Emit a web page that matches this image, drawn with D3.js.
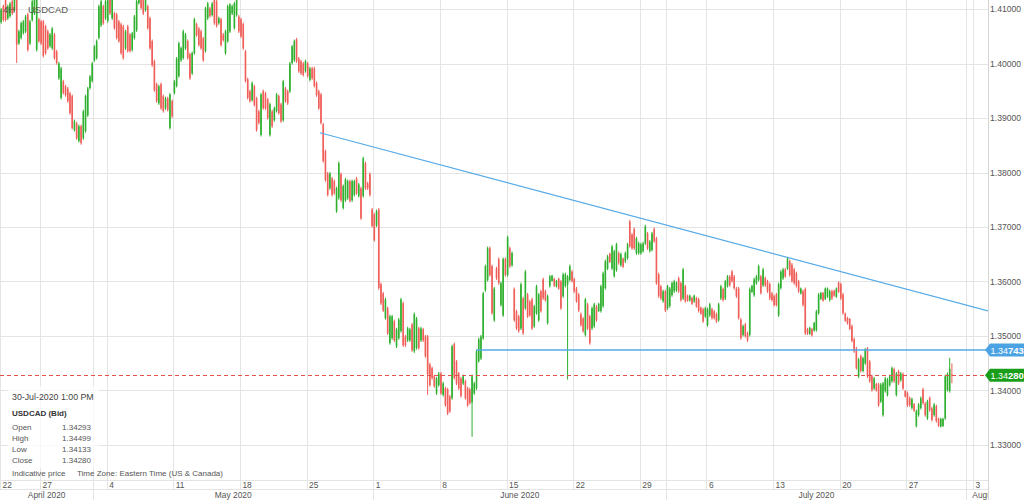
<!DOCTYPE html>
<html>
<head>
<meta charset="utf-8">
<title>USDCAD 4H</title>
<style>
body { margin: 0; background: #fff; }
svg text { font-family: "Liberation Sans", Arial, sans-serif; }
</style>
<script src="https://d3js.org/d3.v7.min.js"></script>
</head>
<body>
<svg id="chart" width="1024" height="500"></svg>
<script>
// 4H bars, 22-Apr-2020 .. 30-Jul-2020 1:00 PM (one line per trading week)
var opens = [
1.4076,1.4105,1.4116,1.4083,1.4087,1.4114,1.4098,1.4117,1.4037,1.4047,1.4056,1.4059,1.4090,1.4037,1.4080,1.4092,1.4025,1.4081,
1.4077,1.4077,1.4068,1.4059,1.4032,1.4028,1.4053,1.4022,1.3973,1.3937,1.3967,1.3958,1.3954,1.3945,1.3940,1.3878,1.3890,1.3858,1.3885,1.3863,1.3876,1.3905,1.3955,1.3968,1.4006,1.4010,1.4047,1.4070,1.4105,1.4083,
1.4078,1.4129,1.4083,1.4092,1.4090,1.4077,1.4072,1.4068,1.4028,1.4068,1.4053,1.4025,1.4047,1.4061,1.4111,1.4123,1.4120,1.4098,1.4105,1.4083,1.4041,1.4004,1.3962,1.3927,1.3962,1.3940,1.3918,1.3936,1.3882,1.3931,
1.3946,1.3959,1.3977,1.4006,1.4010,1.4028,1.4041,1.4017,1.3982,1.4019,1.4072,1.4064,1.4059,1.4046,1.4023,1.4083,1.4101,1.4089,1.4123,1.4114,1.4074,1.4081,1.4053,1.4019,1.4041,1.4059,1.4092,1.4065,1.4089,1.4086,
1.4081,1.4072,1.4022,1.3971,1.3949,1.3933,1.3958,1.3936,1.3912,1.3869,1.3949,1.3945,1.3934,1.3869,1.3912,1.3896,1.3913,1.3940,1.3925,1.3896,1.3954,1.3949,1.3949,1.4001,1.4006,1.4044,1.4009,1.4004,1.4000,1.3986,
1.4000,1.3970,1.3991,1.3991,1.3964,1.3949,1.3943,1.3888,1.3839,1.3798,1.3771,1.3789,1.3784,1.3729,1.3753,1.3797,1.3735,1.3749,1.3753,1.3784,1.3749,1.3759,1.3789,1.3757,1.3771,1.3757,1.3817,1.3780,1.3797,1.3732,
1.3723,1.3703,1.3732,1.3595,1.3578,1.3533,1.3551,1.3487,1.3496,1.3527,1.3481,1.3496,1.3509,1.3560,1.3499,1.3492,1.3492,1.3521,1.3472,1.3478,1.3514,1.3492,1.3512,1.3499,1.3499,1.3448,1.3441,1.3426,1.3395,1.3410,
1.3431,1.3392,1.3404,1.3402,1.3389,1.3386,1.3485,1.3453,1.3431,1.3422,1.3413,1.3417,1.3404,1.3402,1.3378,1.3395,1.3404,1.3454,1.3459,1.3496,1.3584,1.3603,1.3661,1.3628,1.3529,1.3624,1.3641,1.3557,1.3538,1.3641,
1.3612,1.3661,1.3630,1.3586,1.3545,1.3536,1.3514,1.3569,1.3551,1.3576,1.3563,1.3567,1.3518,1.3542,1.3529,1.3582,1.3604,1.3582,1.3524,1.3592,1.3601,1.3605,1.3591,1.3605,1.3600,1.3573,1.3592,1.3595,1.3603,1.3618,
1.3604,1.3587,1.3576,1.3540,1.3532,1.3502,1.3558,1.3536,1.3514,1.3518,1.3554,1.3546,1.3546,1.3555,1.3588,1.3624,1.3651,1.3624,1.3610,1.3621,1.3652,1.3630,1.3642,1.3637,1.3643,1.3710,1.3686,1.3696,1.3652,1.3652,
1.3652,1.3656,1.3670,1.3688,1.3656,1.3658,1.3696,1.3679,1.3613,1.3591,1.3564,1.3582,1.3551,1.3555,1.3575,1.3582,1.3584,1.3606,1.3597,1.3569,1.3591,1.3574,1.3565,1.3570,1.3563,1.3570,1.3567,1.3552,1.3549,1.3536,
1.3520,1.3538,1.3549,1.3545,1.3540,1.3529,1.3569,1.3586,1.3569,1.3592,1.3609,1.3618,1.3609,1.3587,1.3587,1.3530,1.3502,1.3521,1.3505,1.3502,1.3581,1.3575,1.3597,1.3603,1.3609,1.3593,1.3606,1.3600,1.3595,1.3578,
1.3573,1.3576,1.3538,1.3588,1.3606,1.3622,1.3624,1.3637,1.3631,1.3622,1.3615,1.3600,1.3578,1.3582,1.3586,1.3513,1.3504,1.3513,1.3510,1.3511,1.3542,1.3568,1.3579,1.3568,1.3572,1.3566,1.3582,1.3583,1.3572,1.3598,
1.3595,1.3576,1.3541,1.3533,1.3531,1.3518,1.3494,1.3477,1.3426,1.3463,1.3436,1.3450,1.3477,1.3453,1.3426,1.3404,1.3412,1.3411,1.3380,1.3355,1.3399,1.3392,1.3410,1.3417,1.3439,1.3392,1.3435,1.3419,1.3430,1.3399,
1.3395,1.3386,1.3368,1.3375,1.3335,1.3355,1.3368,1.3402,1.3376,1.3349,1.3386,1.3367,1.3355,1.3371,1.3348,1.3334,1.3335,1.3349,1.3401,1.3399,1.34293
];
var highs = [
1.4102,1.4108,1.4119,1.4108,1.4113,1.4117,1.4123,1.4120,1.4062,1.4077,1.4080,1.4089,1.4093,1.4080,1.4117,1.4135,1.4126,1.4084,
1.4080,1.4080,1.4071,1.4062,1.4056,1.4067,1.4056,1.4025,1.4003,1.3994,1.3970,1.3961,1.3957,1.3948,1.3943,1.3897,1.3893,1.3888,1.3888,1.3915,1.3943,1.3957,1.3979,1.4003,1.4034,1.4044,1.4108,1.4117,1.4108,1.4117,
1.4135,1.4132,1.4126,1.4095,1.4093,1.4080,1.4075,1.4071,1.4062,1.4071,1.4056,1.4058,1.4089,1.4117,1.4135,1.4126,1.4123,1.4121,1.4108,1.4086,1.4044,1.4007,1.3965,1.3961,1.3965,1.3943,1.3939,1.3939,1.3946,1.3934,
1.3970,1.4012,1.4040,1.4031,1.4062,1.4056,1.4044,1.4020,1.4022,1.4084,1.4075,1.4067,1.4062,1.4049,1.4104,1.4113,1.4104,1.4113,1.4126,1.4117,1.4086,1.4084,1.4056,1.4062,1.4108,1.4111,1.4108,1.4113,1.4126,1.4089,
1.4084,1.4075,1.4025,1.3974,1.3952,1.3967,1.3961,1.3939,1.3915,1.3946,1.3952,1.3948,1.3937,1.3928,1.3915,1.3921,1.3946,1.3943,1.3928,1.3970,1.3957,1.3952,1.4003,1.4034,1.4044,1.4047,1.4012,1.4007,1.4003,1.4007,
1.4003,1.3994,1.3994,1.3994,1.3967,1.3952,1.3946,1.3891,1.3842,1.3801,1.3801,1.3792,1.3787,1.3774,1.3820,1.3800,1.3778,1.3790,1.3787,1.3787,1.3787,1.3787,1.3792,1.3781,1.3774,1.3829,1.3820,1.3783,1.3800,1.3735,
1.3726,1.3732,1.3735,1.3598,1.3581,1.3570,1.3554,1.3539,1.3539,1.3530,1.3515,1.3533,1.3570,1.3563,1.3502,1.3517,1.3515,1.3524,1.3543,1.3535,1.3517,1.3517,1.3515,1.3502,1.3502,1.3451,1.3444,1.3429,1.3425,1.3434,
1.3434,1.3416,1.3407,1.3405,1.3392,1.3484,1.3488,1.3456,1.3434,1.3425,1.3429,1.3420,1.3407,1.3405,1.3429,1.3416,1.3475,1.3497,1.3502,1.3581,1.3631,1.3664,1.3664,1.3631,1.3590,1.3627,1.3644,1.3600,1.3644,1.3644,
1.3684,1.3664,1.3655,1.3589,1.3548,1.3539,1.3598,1.3572,1.3621,1.3579,1.3566,1.3570,1.3557,1.3594,1.3579,1.3585,1.3607,1.3585,1.3576,1.3612,1.3612,1.3607,1.3603,1.3607,1.3603,1.3616,1.3616,1.3612,1.3631,1.3621,
1.3607,1.3590,1.3579,1.3543,1.3535,1.3570,1.3561,1.3539,1.3554,1.3561,1.3557,1.3561,1.3594,1.3618,1.3640,1.3649,1.3653,1.3667,1.3658,1.3671,1.3655,1.3653,1.3644,1.3655,1.3671,1.3713,1.3689,1.3699,1.3682,1.3673,
1.3671,1.3673,1.3704,1.3691,1.3676,1.3691,1.3699,1.3682,1.3616,1.3594,1.3585,1.3585,1.3594,1.3590,1.3600,1.3603,1.3600,1.3609,1.3600,1.3625,1.3594,1.3576,1.3576,1.3572,1.3576,1.3572,1.3570,1.3554,1.3552,1.3554,
1.3552,1.3561,1.3552,1.3548,1.3543,1.3561,1.3594,1.3589,1.3603,1.3612,1.3612,1.3621,1.3612,1.3590,1.3590,1.3533,1.3521,1.3524,1.3508,1.3589,1.3594,1.3607,1.3612,1.3631,1.3612,1.3625,1.3609,1.3603,1.3598,1.3581,
1.3576,1.3579,1.3598,1.3621,1.3625,1.3625,1.3645,1.3640,1.3634,1.3625,1.3618,1.3603,1.3589,1.3585,1.3589,1.3515,1.3517,1.3515,1.3526,1.3548,1.3579,1.3581,1.3581,1.3589,1.3589,1.3585,1.3585,1.3585,1.3589,1.3600,
1.3598,1.3579,1.3543,1.3535,1.3533,1.3521,1.3497,1.3480,1.3460,1.3466,1.3462,1.3478,1.3480,1.3456,1.3429,1.3425,1.3414,1.3414,1.3414,1.3416,1.3425,1.3423,1.3429,1.3444,1.3442,1.3434,1.3438,1.3434,1.3433,1.3401,
1.3398,1.3389,1.3387,1.3377,1.3365,1.3377,1.3389,1.3405,1.3379,1.3383,1.3389,1.3370,1.3377,1.3374,1.3350,1.3350,1.3350,1.3429,1.3433,1.3460,1.34499
];
var lows = [
1.4073,1.4077,1.4077,1.4080,1.4084,1.4089,1.4095,1.4001,1.4034,1.4044,1.4053,1.4056,1.4022,1.4034,1.4077,1.4089,1.4022,1.4038,
1.4034,1.4011,1.4016,1.4025,1.4029,1.4025,1.4007,1.3998,1.3970,1.3934,1.3943,1.3939,1.3928,1.3906,1.3879,1.3875,1.3860,1.3855,1.3851,1.3860,1.3873,1.3902,1.3952,1.3965,1.4003,1.4007,1.4044,1.4067,1.4071,1.4080,
1.4075,1.4089,1.4080,1.4062,1.4044,1.4038,1.4016,1.4007,1.4025,1.4020,1.4020,1.4022,1.4044,1.4058,1.4108,1.4099,1.4089,1.4095,1.4062,1.4025,1.3994,1.3948,1.3928,1.3924,1.3915,1.3910,1.3915,1.3912,1.3879,1.3900,
1.3943,1.3956,1.3974,1.4003,1.4007,1.4025,1.4007,1.3970,1.3979,1.4016,1.4049,1.4031,1.4025,1.4003,1.4020,1.4080,1.4084,1.4086,1.4071,1.4066,1.4071,1.4031,1.4040,1.4016,1.4038,1.4056,1.4089,1.4062,1.4086,1.4056,
1.4047,1.4025,1.3965,1.3934,1.3928,1.3930,1.3921,1.3875,1.3888,1.3866,1.3915,1.3915,1.3897,1.3866,1.3882,1.3893,1.3910,1.3906,1.3891,1.3893,1.3928,1.3924,1.3946,1.3998,1.4003,1.4001,1.3983,1.3979,1.3976,1.3983,
1.3974,1.3967,1.3970,1.3956,1.3939,1.3915,1.3888,1.3818,1.3783,1.3756,1.3768,1.3756,1.3759,1.3726,1.3750,1.3746,1.3732,1.3746,1.3750,1.3745,1.3746,1.3756,1.3759,1.3754,1.3713,1.3754,1.3768,1.3768,1.3756,1.3699,
1.3673,1.3700,1.3585,1.3557,1.3544,1.3530,1.3502,1.3484,1.3493,1.3489,1.3478,1.3493,1.3506,1.3480,1.3480,1.3489,1.3489,1.3471,1.3469,1.3475,1.3475,1.3489,1.3489,1.3460,1.3392,1.3407,1.3420,1.3405,1.3392,1.3407,
1.3392,1.3389,1.3370,1.3355,1.3359,1.3383,1.3420,1.3410,1.3401,1.3387,1.3410,1.3383,1.3370,1.3374,1.3315,1.3392,1.3401,1.3451,1.3456,1.3493,1.3581,1.3600,1.3609,1.3539,1.3526,1.3603,1.3594,1.3554,1.3535,1.3609,
1.3609,1.3625,1.3627,1.3526,1.3511,1.3506,1.3511,1.3502,1.3548,1.3533,1.3535,1.3511,1.3515,1.3539,1.3526,1.3543,1.3566,1.3563,1.3521,1.3589,1.3600,1.3590,1.3589,1.3585,1.3548,1.3570,1.3589,1.3420,1.3600,1.3598,
1.3579,1.3561,1.3544,1.3517,1.3506,1.3499,1.3511,1.3484,1.3511,1.3515,1.3526,1.3544,1.3543,1.3552,1.3585,1.3621,1.3634,1.3621,1.3607,1.3618,1.3631,1.3627,1.3625,1.3634,1.3640,1.3662,1.3658,1.3658,1.3649,1.3649,
1.3649,1.3653,1.3667,1.3658,1.3653,1.3655,1.3671,1.3594,1.3570,1.3566,1.3561,1.3544,1.3548,1.3552,1.3572,1.3579,1.3581,1.3579,1.3563,1.3566,1.3561,1.3563,1.3563,1.3557,1.3561,1.3552,1.3543,1.3539,1.3524,1.3533,
1.3517,1.3535,1.3530,1.3530,1.3524,1.3526,1.3566,1.3563,1.3566,1.3589,1.3590,1.3598,1.3585,1.3570,1.3530,1.3493,1.3499,1.3497,1.3489,1.3499,1.3579,1.3572,1.3594,1.3600,1.3576,1.3590,1.3590,1.3579,1.3566,1.3563,
1.3554,1.3554,1.3535,1.3585,1.3603,1.3607,1.3621,1.3609,1.3598,1.3594,1.3589,1.3579,1.3576,1.3554,1.3502,1.3502,1.3502,1.3499,1.3508,1.3508,1.3539,1.3566,1.3563,1.3566,1.3570,1.3563,1.3566,1.3572,1.3570,1.3579,
1.3566,1.3539,1.3526,1.3521,1.3511,1.3488,1.3469,1.3438,1.3423,1.3433,1.3433,1.3447,1.3423,1.3414,1.3398,1.3401,1.3398,1.3370,1.3377,1.3352,1.3396,1.3389,1.3407,1.3414,1.3414,1.3389,1.3410,1.3416,1.3401,1.3387,
1.3370,1.3370,1.3365,1.3361,1.3332,1.3352,1.3365,1.3374,1.3352,1.3346,1.3361,1.3343,1.3352,1.3341,1.3333,1.3332,1.3333,1.3346,1.3398,1.3396,1.34133
];
var closes = [
1.4099,1.4080,1.4080,1.4105,1.4110,1.4092,1.4120,1.4035,1.4059,1.4074,1.4077,1.4086,1.4025,1.4077,1.4114,1.4132,1.4123,1.4041,
1.4037,1.4014,1.4019,1.4028,1.4053,1.4064,1.4010,1.4001,1.4000,1.3991,1.3946,1.3942,1.3931,1.3909,1.3882,1.3894,1.3863,1.3885,1.3854,1.3912,1.3940,1.3954,1.3976,1.4000,1.4031,1.4041,1.4105,1.4114,1.4074,1.4114,
1.4132,1.4092,1.4123,1.4065,1.4047,1.4041,1.4019,1.4010,1.4059,1.4023,1.4023,1.4055,1.4086,1.4114,1.4132,1.4102,1.4092,1.4118,1.4065,1.4028,1.3997,1.3951,1.3931,1.3958,1.3918,1.3913,1.3936,1.3915,1.3943,1.3903,
1.3967,1.4009,1.4037,1.4028,1.4059,1.4053,1.4010,1.3973,1.4019,1.4081,1.4052,1.4034,1.4028,1.4006,1.4101,1.4110,1.4087,1.4110,1.4074,1.4069,1.4083,1.4034,1.4043,1.4059,1.4105,1.4108,1.4105,1.4110,1.4123,1.4059,
1.4050,1.4028,1.3968,1.3937,1.3931,1.3964,1.3924,1.3878,1.3891,1.3943,1.3918,1.3918,1.3900,1.3925,1.3885,1.3918,1.3943,1.3909,1.3894,1.3967,1.3931,1.3927,1.4000,1.4031,1.4041,1.4004,1.3986,1.3982,1.3979,1.4004,
1.3977,1.3991,1.3973,1.3959,1.3942,1.3918,1.3891,1.3821,1.3786,1.3759,1.3798,1.3759,1.3762,1.3771,1.3817,1.3749,1.3775,1.3787,1.3784,1.3748,1.3784,1.3784,1.3762,1.3778,1.3716,1.3826,1.3771,1.3771,1.3759,1.3702,
1.3676,1.3729,1.3588,1.3560,1.3547,1.3567,1.3505,1.3536,1.3536,1.3492,1.3512,1.3530,1.3567,1.3483,1.3483,1.3514,1.3512,1.3474,1.3540,1.3532,1.3478,1.3514,1.3492,1.3463,1.3430,1.3410,1.3423,1.3408,1.3422,1.3431,
1.3395,1.3413,1.3373,1.3358,1.3362,1.3481,1.3423,1.3413,1.3404,1.3390,1.3426,1.3386,1.3373,1.3377,1.3426,1.3413,1.3472,1.3494,1.3499,1.3578,1.3628,1.3661,1.3612,1.3542,1.3587,1.3606,1.3597,1.3597,1.3641,1.3612,
1.3681,1.3628,1.3652,1.3529,1.3514,1.3509,1.3595,1.3505,1.3618,1.3536,1.3538,1.3514,1.3554,1.3591,1.3576,1.3546,1.3569,1.3566,1.3573,1.3609,1.3611,1.3592,1.3601,1.3587,1.3551,1.3613,1.3613,1.3609,1.3628,1.3601,
1.3582,1.3564,1.3547,1.3520,1.3509,1.3567,1.3514,1.3487,1.3551,1.3558,1.3529,1.3559,1.3591,1.3615,1.3637,1.3646,1.3636,1.3664,1.3655,1.3668,1.3634,1.3650,1.3627,1.3652,1.3668,1.3665,1.3661,1.3661,1.3679,1.3670,
1.3668,1.3670,1.3701,1.3661,1.3673,1.3688,1.3674,1.3597,1.3573,1.3569,1.3582,1.3547,1.3591,1.3587,1.3597,1.3600,1.3598,1.3582,1.3566,1.3622,1.3564,1.3565,1.3574,1.3559,1.3574,1.3554,1.3546,1.3541,1.3527,1.3551,
1.3549,1.3558,1.3533,1.3533,1.3527,1.3558,1.3591,1.3566,1.3600,1.3609,1.3593,1.3601,1.3588,1.3573,1.3533,1.3496,1.3518,1.3500,1.3492,1.3586,1.3592,1.3604,1.3609,1.3628,1.3579,1.3622,1.3593,1.3582,1.3569,1.3566,
1.3557,1.3557,1.3595,1.3618,1.3622,1.3609,1.3642,1.3612,1.3601,1.3597,1.3592,1.3582,1.3587,1.3557,1.3505,1.3504,1.3515,1.3501,1.3524,1.3545,1.3576,1.3579,1.3565,1.3587,1.3587,1.3582,1.3569,1.3574,1.3587,1.3581,
1.3569,1.3542,1.3528,1.3523,1.3513,1.3491,1.3472,1.3441,1.3457,1.3436,1.3459,1.3475,1.3426,1.3417,1.3401,1.3422,1.3400,1.3373,1.3411,1.3413,1.3422,1.3420,1.3426,1.3441,1.3417,1.3431,1.3413,1.3431,1.3404,1.3389,
1.3373,1.3373,1.3384,1.3363,1.3362,1.3374,1.3386,1.3377,1.3355,1.3380,1.3364,1.3346,1.3374,1.3344,1.3335,1.3348,1.3348,1.3426,1.3430,1.3440,1.34280
];

// time axis: bar index where each week (Monday) starts, and its day label
var weekStarts = [0, 18, 48, 78, 108, 138, 168, 198, 228, 258, 288, 318, 348, 378, 408, 438];
var weekLabels = ["22", "27", "4", "11", "18", "25", "1", "8", "15", "22", "29", "6", "13", "20", "27", "3"];
var monthStarts = [0, 42, 168, 300, 435];
var monthLabels = ["April 2020", "May 2020", "June 2020", "July 2020", "August 2020"];

var priceTicks = [1.33, 1.34, 1.35, 1.36, 1.37, 1.38, 1.39, 1.40, 1.41];

// drawn lines: [bar index, price]
var trendLine = [[143.5, 1.3873], [444.3, 1.3546]];
var levelLine = [[214, 1.34743], [446, 1.34743]];
var levelPrice = 1.34743;

var symbol = "USDCAD";
var lastTime = "30-Jul-2020 1:00 PM";

var W = 1024, H = 500;
var plotRight = 988, plotBottom = 480;
var green = "#2fb02f", red = "#ef5e58", blue = "#55aae8", grid = "#e4e4e4";

var svg = d3.select("#chart");

svg.append("rect").attr("width", W).attr("height", H).attr("fill", "#fff");

var x = d3.scaleLinear().domain([18, 438]).range([40, 973]);
var y = d3.scaleLinear().domain([1.33, 1.41]).range([445, 9]);

svg.append("defs").append("clipPath").attr("id", "plotClip")
    .append("rect").attr("x", 0).attr("y", 0).attr("width", plotRight).attr("height", plotBottom);
svg.select("defs").append("clipPath").attr("id", "axisClip")
    .append("rect").attr("x", 0).attr("y", 0).attr("width", plotRight).attr("height", H);

// horizontal grid
svg.append("g").selectAll("line")
    .data(priceTicks)
    .enter()
    .append("line")
    .attr("x1", 0).attr("x2", plotRight)
    .attr("y1", function(d) { return Math.round(y(d)) + 0.5; })
    .attr("y2", function(d) { return Math.round(y(d)) + 0.5; })
    .attr("stroke", grid);

// week grid (through day row)
svg.append("g").selectAll("line")
    .data(weekStarts)
    .enter()
    .append("line")
    .attr("x1", function(d) { return Math.round(x(d)) + 0.5; })
    .attr("x2", function(d) { return Math.round(x(d)) + 0.5; })
    .attr("y1", 0).attr("y2", 489)
    .attr("stroke", grid);

// month grid (full height)
svg.append("g").selectAll("line")
    .data(monthStarts.slice(1))
    .enter()
    .append("line")
    .attr("x1", function(d) { return Math.round(x(d)) + 0.5; })
    .attr("x2", function(d) { return Math.round(x(d)) + 0.5; })
    .attr("y1", 0).attr("y2", H)
    .attr("stroke", grid);

// axis frame lines
svg.append("line").attr("x1", 0).attr("x2", plotRight).attr("y1", 480.5).attr("y2", 480.5).attr("stroke", grid);
svg.append("line").attr("x1", 0).attr("x2", plotRight).attr("y1", 489.5).attr("y2", 489.5).attr("stroke", grid);
svg.append("line").attr("x1", plotRight + 0.5).attr("x2", plotRight + 0.5).attr("y1", 0).attr("y2", H).attr("stroke", "#d6d6d6");

// candles
var bars = d3.range(closes.length).map(function(i) {
    return { i: i, o: opens[i], h: highs[i], l: lows[i], c: closes[i] };
});
var colorOf = function(d) { return d.c >= d.o ? green : red; };

var plot = svg.append("g").attr("clip-path", "url(#plotClip)");

plot.selectAll("line.wick")
    .data(bars)
    .enter()
    .append("line")
    .attr("class", "wick")
    .attr("x1", function(d) { return x(d.i + 0.5); })
    .attr("x2", function(d) { return x(d.i + 0.5); })
    .attr("y1", function(d) { return y(d.h); })
    .attr("y2", function(d) { return y(d.l); })
    .attr("stroke", colorOf)
    .attr("stroke-width", 1);

plot.selectAll("rect.body")
    .data(bars)
    .enter()
    .append("rect")
    .attr("class", "body")
    .attr("x", function(d) { return x(d.i + 0.5) - 0.8; })
    .attr("width", 1.6)
    .attr("y", function(d) { return y(Math.max(d.o, d.c)); })
    .attr("height", function(d) { return Math.max(1, Math.abs(y(d.o) - y(d.c))); })
    .attr("fill", colorOf);

// trend line and level line
var line = d3.line()
    .x(function(d) { return x(d[0] + 0.5); })
    .y(function(d) { return y(d[1]); });

plot.append("path").datum(trendLine).attr("d", line)
    .attr("fill", "none").attr("stroke", blue).attr("stroke-width", 1.2);
plot.append("path").datum(levelLine).attr("d", line)
    .attr("fill", "none").attr("stroke", blue).attr("stroke-width", 1.6);

// last price dashed line
var last = bars[bars.length - 1];
var lastY = Math.round(y(last.c)) + 0.5;
plot.append("line")
    .attr("x1", 0).attr("x2", plotRight)
    .attr("y1", lastY).attr("y2", lastY)
    .attr("stroke", "#e4504a").attr("stroke-width", 1)
    .attr("stroke-dasharray", "4,3");

// price axis
var yAxis = d3.axisRight(y).tickValues(priceTicks).tickFormat(d3.format(".5f")).tickSize(0).tickPadding(2);
var axisG = svg.append("g").attr("transform", "translate(" + plotRight + ",0)").call(yAxis);
axisG.select(".domain").remove();
axisG.selectAll("text").attr("fill", "#555").style("font-size", "8.6px");

// price tags
function priceTag(price, fill) {
    var ty = y(price);
    var g = svg.append("g");
    g.append("path")
        .attr("d", "M" + (plotRight - 3) + "," + ty + "L" + (plotRight + 2) + "," + (ty - 6.5) +
            "L" + W + "," + (ty - 6.5) + "L" + W + "," + (ty + 6.5) + "L" + (plotRight + 2) + "," + (ty + 6.5) + "Z")
        .attr("fill", fill);
    var s = d3.format(".5f")(price);
    var t = g.append("text").attr("x", plotRight + 2.5).attr("y", ty + 3.5).attr("fill", "#fff");
    t.append("tspan").style("font-size", "9px").text(s.slice(0, 4));
    t.append("tspan").style("font-size", "9.5px").style("font-weight", "bold").text(s.slice(4));
}
priceTag(levelPrice, "#4ca3e3");
priceTag(last.c, "#1a9e1a");

// time axis labels
var axisText = svg.append("g").attr("clip-path", "url(#axisClip)");
axisText.selectAll("text.day")
    .data(weekStarts)
    .enter()
    .append("text")
    .attr("class", "day")
    .attr("x", function(d) { return x(d) + 2.5; })
    .attr("y", 488)
    .attr("fill", "#555")
    .style("font-size", "8.4px")
    .text(function(d, i) { return weekLabels[i]; });

axisText.selectAll("text.month")
    .data(monthStarts)
    .enter()
    .append("text")
    .attr("class", "month")
    .attr("x", function(d, i) {
        if (i < monthStarts.length - 1) return (x(d) + x(monthStarts[i + 1])) / 2;
        return x(d) + 6;
    })
    .attr("y", 498)
    .attr("text-anchor", function(d, i) { return i < monthStarts.length - 1 ? "middle" : "start"; })
    .attr("fill", "#555")
    .style("font-size", "8.4px")
    .text(function(d, i) { return monthLabels[i]; });

// title
svg.append("text").attr("x", 3).attr("y", 13).attr("fill", "#555").style("font-size", "9.5px").text("4H");
svg.append("text").attr("x", 28).attr("y", 13).attr("fill", "#555").style("font-size", "9.5px").text(symbol);

// info box
svg.append("rect").attr("x", 8).attr("y", 386).attr("width", 91).attr("height", 82)
    .attr("fill", "#fff").attr("opacity", 0.75);
svg.append("text").attr("x", 12).attr("y", 400).attr("fill", "#444").style("font-size", "8.8px").text(lastTime);
svg.append("text").attr("x", 12).attr("y", 416).attr("fill", "#333").style("font-size", "8px")
    .style("font-weight", "bold").text(symbol + " (Bid)");

var infoRows = [["Open", last.o], ["High", last.h], ["Low", last.l], ["Close", last.c]];
var info = svg.append("g").selectAll("g").data(infoRows).enter().append("g");
info.append("text")
    .attr("x", 12).attr("y", function(d, i) { return 430 + i * 11; })
    .attr("fill", "#555").style("font-size", "8px")
    .text(function(d) { return d[0]; });
info.append("text")
    .attr("x", 91).attr("y", function(d, i) { return 430 + i * 11; })
    .attr("text-anchor", "end")
    .attr("fill", "#555").style("font-size", "8px")
    .text(function(d) { return d3.format(".5f")(d[1]); });

svg.append("text").attr("x", 12).attr("y", 476).attr("fill", "#555").style("font-size", "8px").text("Indicative price");
svg.append("text").attr("x", 77).attr("y", 476).attr("fill", "#555").style("font-size", "8px")
    .text("Time Zone: Eastern Time (US & Canada)");
</script>
</body>
</html>
